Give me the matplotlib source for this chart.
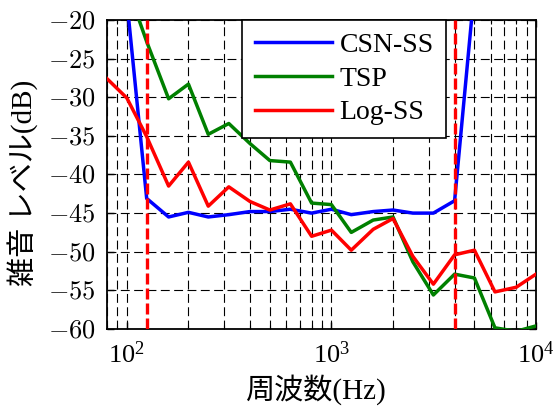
import matplotlib
matplotlib.use("Agg")
import matplotlib.pyplot as plt
from matplotlib.ticker import FuncFormatter, LogLocator, LogFormatterMathtext, MultipleLocator

plt.rcParams['mathtext.fontset'] = 'cm'
plt.rcParams['font.family'] = ['Liberation Serif', 'Noto Sans CJK JP']

freqs = [80, 100, 125, 160, 200, 250, 315, 400, 500, 630, 800, 1000,
         1250, 1600, 2000, 2500, 3150, 4000, 5000, 6300, 8000, 10000]

csn_ss = [-5, -17.5, -43.1, -45.5, -44.9, -45.5, -45.2, -44.8, -44.8, -44.5, -45.0, -44.5,
          -45.2, -44.8, -44.6, -45.0, -45.0, -43.4, -16, -5, -5, -5]
tsp = [-10, -15.5, -22.8, -30.2, -28.3, -34.8, -33.4, -36.0, -38.2, -38.4, -43.7, -43.9,
       -47.5, -45.9, -45.5, -51.3, -55.6, -52.9, -53.4, -59.85, -60.3, -59.6]
log_ss = [-27.6, -30.1, -35.1, -41.5, -38.4, -44.1, -41.6, -43.5, -44.6, -43.8, -48.0, -47.2,
          -49.8, -47.1, -45.7, -50.6, -54.2, -50.4, -49.8, -55.2, -54.6, -52.9]
series_labels = ['CSN-SS', 'TSP', 'Log-SS']
cutoffs = [125, 4000]

fig = plt.figure(figsize=(5.58, 4.12), dpi=100)
ax = fig.add_axes([0.1918, 0.2015, 0.9606 - 0.1918, 0.9515 - 0.2015])

lw = 2.5
ax.plot(freqs, csn_ss, color=(0, 0, 1), lw=lw, label=series_labels[0], zorder=4)
ax.plot(freqs, tsp, color=(0, 0.5, 0), lw=lw, label=series_labels[1], zorder=4)
ax.plot(freqs, log_ss, color=(1, 0, 0), lw=lw, label=series_labels[2], zorder=4)
for c in cutoffs:
    ax.axvline(c, color=(1, 0, 0), lw=2.4, linestyle=(0, (3.3, 1.2)), zorder=5)

ax.set_xscale('log')
ax.set_xlim(80, 10000)
ax.set_ylim(-60, -20)
ax.xaxis.set_major_locator(LogLocator(base=10))
ax.xaxis.set_minor_locator(LogLocator(base=10, subs=range(2, 10)))
ax.xaxis.set_major_formatter(LogFormatterMathtext())
ax.xaxis.set_minor_formatter(FuncFormatter(lambda v, p: ''))
ax.yaxis.set_major_locator(MultipleLocator(5))
ax.yaxis.set_major_formatter(FuncFormatter(lambda v, p: f'${int(round(v))}$'))

grid_ls = (0, (8, 4))
ax.grid(True, which='major', axis='both', color='black', lw=0.8, linestyle=grid_ls, zorder=1)
ax.grid(True, which='minor', axis='x', color='black', lw=0.8, linestyle=grid_ls, zorder=1)
ax.set_axisbelow(True)

ax.tick_params(which='both', direction='in', top=True, right=True, labelsize=19)
ax.tick_params(which='major', length=5, width=1.0)
ax.tick_params(which='minor', length=3, width=0.8)
ax.tick_params(axis='x', pad=9)
ax.tick_params(axis='y', pad=8)
for s in ax.spines.values():
    s.set_linewidth(1.3)

ax.set_xlabel('周波数(Hz)', fontsize=21)
ax.set_ylabel('雑音 レベル(dB)', fontsize=21)
ax.xaxis.set_label_coords(0.485, -0.145)
ax.yaxis.set_label_coords(-0.162, 0.4725)

leg = ax.legend(loc='upper left', bbox_to_anchor=(0.315, 1.0), borderaxespad=0,
                fontsize=20, frameon=True, fancybox=False, framealpha=1,
                edgecolor='black', handlelength=2.77, handletextpad=0.29,
                labelspacing=0.3, borderpad=0.45)
leg.get_frame().set_linewidth(1.2)
leg.set_zorder(10)

fig.savefig('out.png', dpi=100)
